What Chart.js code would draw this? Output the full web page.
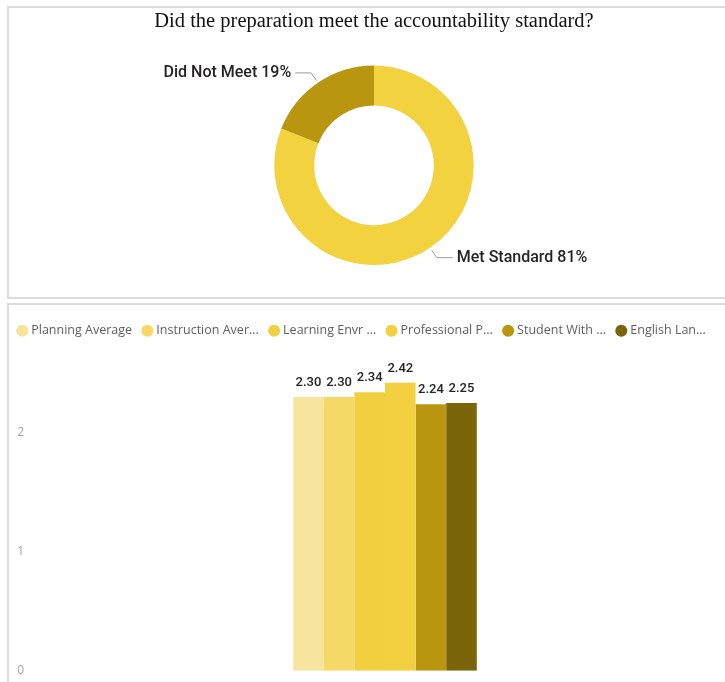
<!DOCTYPE html>
<html>
<head>
<meta charset="utf-8">
<script src="https://cdn.jsdelivr.net/npm/chart.js@4.4.1/dist/chart.umd.min.js"></script>
<style>
    body { margin: 0; background: #fff; overflow: hidden; width: 725px; height: 682px; position: relative; }
    .panel { position: absolute; border: 2px solid #dcdcdc; background: #fff; }
    #top-panel { left: 7px; top: 6px; width: 740px; height: 289px; }
    #bottom-panel { left: 7px; top: 303px; width: 740px; height: 400px; }
    canvas { position: absolute; left: 0; }
    #donut { top: 0; }
    #bars { top: 305px; }
</style>
</head>
<body>
<div class="panel" id="top-panel"></div>
<div class="panel" id="bottom-panel"></div>
<canvas id="donut" width="725" height="300"></canvas>
<canvas id="bars" width="725" height="394"></canvas>

<script>
// accountability standard split
const standardLabels = ["Met Standard", "Did Not Meet"];
const standardValues = [81, 19];
const standardColors = ["#F2D23F", "#B8960F"];

// average scores per area
const areaLabels = ["Planning Average", "Instruction Aver...", "Learning Envr ...", "Professional P...", "Student With ...", "English Lan..."];
const areaValues = [2.30, 2.30, 2.34, 2.42, 2.24, 2.25];
const areaColors = ["#F8E59D", "#F6D867", "#F2CF3E", "#F2D03F", "#B8960F", "#7A650B"];

const labelFont = "500 16px Roboto";
const textColor = "#252423";

// outside labels with little elbow lines for the doughnut
const donutLabels = {
    id: "donutLabels",
    afterDatasetsDraw(chart) {
        const ctx = chart.ctx;
        const meta = chart.getDatasetMeta(0);
        const total = standardValues.reduce((a, b) => a + b, 0);
        ctx.save();
        meta.data.forEach((arc, i) => {
            const p = arc.getProps(["x", "y", "startAngle", "endAngle", "outerRadius"], true);
            const mid = (p.startAngle + p.endAngle) / 2;
            const cos = Math.cos(mid), sin = Math.sin(mid);
            const side = cos < 0 ? -1 : 1;
            const sx = p.x + cos * (p.outerRadius + 3);
            const sy = p.y + sin * (p.outerRadius + 3);
            const ex = sx + cos * 9;
            const ey = sy + sin * 9;
            const hx = ex + side * 16;

            ctx.strokeStyle = "#9a9a9a";
            ctx.lineWidth = 1;
            ctx.beginPath();
            ctx.moveTo(sx, sy);
            ctx.lineTo(ex, ey);
            ctx.lineTo(hx, ey);
            ctx.stroke();

            const pct = Math.round(standardValues[i] / total * 100);
            ctx.font = labelFont;
            ctx.fillStyle = textColor;
            ctx.textBaseline = "middle";
            ctx.textAlign = side < 0 ? "right" : "left";
            ctx.fillText(`${standardLabels[i]} ${pct}%`, hx + side * 4, ey);
        });
        ctx.restore();
    }
};

// value on top of every bar
const barValueLabels = {
    id: "barValueLabels",
    afterDatasetsDraw(chart) {
        const ctx = chart.ctx;
        ctx.save();
        ctx.font = "500 13px Roboto";
        ctx.fillStyle = textColor;
        ctx.textAlign = "center";
        ctx.textBaseline = "middle";
        chart.data.datasets.forEach((ds, i) => {
            const bar = chart.getDatasetMeta(i).data[0];
            ctx.fillText(ds.data[0].toFixed(2), bar.x, bar.y - 14);
        });
        ctx.restore();
    }
};

new Chart(document.getElementById("donut"), {
    type: "doughnut",
    data: {
        labels: standardLabels,
        datasets: [{
            data: standardValues,
            backgroundColor: standardColors,
            borderWidth: 0,
            hoverOffset: 0
        }]
    },
    options: {
        responsive: false,
        animation: false,
        cutout: "60%",
        layout: { padding: { left: 74, right: 51, top: 0, bottom: 35 } },
        plugins: {
            legend: { display: false },
            tooltip: { enabled: false },
            title: {
                display: true,
                text: "Did the preparation meet the accountability standard?",
                color: "#111",
                font: { family: "'Liberation Serif', serif", size: 20.5, weight: "normal", lineHeight: 1.2 },
                padding: { top: 9, bottom: 32 }
            }
        }
    },
    plugins: [donutLabels]
});

new Chart(document.getElementById("bars"), {
    type: "bar",
    data: {
        labels: [""],
        datasets: areaLabels.map((name, i) => ({
            label: name,
            data: [areaValues[i]],
            backgroundColor: areaColors[i],
            borderWidth: 0,
            categoryPercentage: 0.27,
            barPercentage: 1
        }))
    },
    options: {
        responsive: false,
        animation: false,
        layout: { padding: { left: 7, right: 0, top: 7, bottom: 13 } },
        scales: {
            x: { display: false },
            y: {
                min: 0,
                max: 2.72,
                grid: { display: false, drawTicks: false },
                border: { display: false },
                afterFit: (scale) => { scale.width = 38; },
                ticks: {
                    stepSize: 1,
                    includeBounds: false,
                    padding: 21,
                    color: "#a3a3a3",
                    font: { family: "'Open Sans'", size: 12 }
                }
            }
        },
        plugins: {
            tooltip: { enabled: false },
            legend: {
                position: "top",
                align: "start",
                labels: {
                    usePointStyle: true,
                    pointStyle: "circle",
                    boxWidth: 5.5,
                    boxHeight: 8.5,
                    padding: 12.5,
                    color: "#605E5C",
                    font: { family: "'Open Sans'", size: 12.5 }
                }
            }
        }
    },
    plugins: [barValueLabels]
});
</script>
</body>
</html>
